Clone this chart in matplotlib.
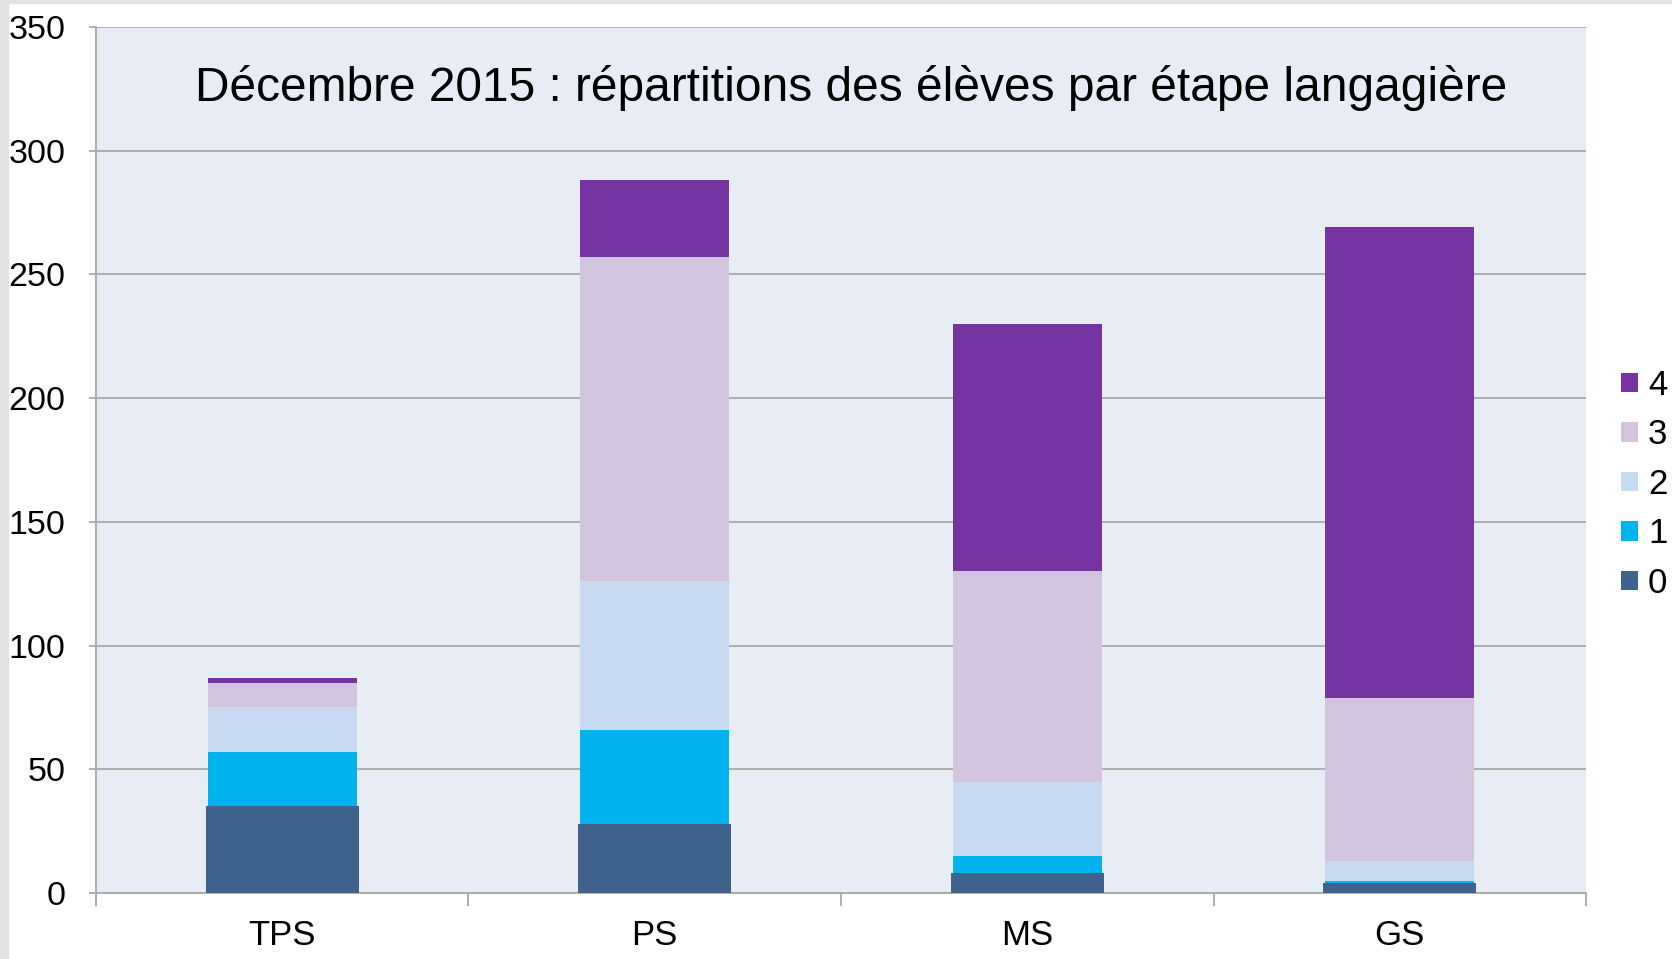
import matplotlib.pyplot as plt
import matplotlib.patches as mpatches
import numpy as np

plt.rcParams['font.family'] = ['Liberation Sans', 'DejaVu Sans']

categories = ['TPS', 'PS', 'MS', 'GS']
etapes = ['0', '1', '2', '3', '4']
vals_0 = [35, 28, 8, 4]
vals_1 = [22, 38, 7, 1]
vals_2 = [18, 60, 30, 8]
vals_3 = [10, 131, 85, 66]
vals_4 = [2, 31, 100, 190]
series = [vals_0, vals_1, vals_2, vals_3, vals_4]
colors = ['#3F638D', '#00B2EE', '#C8DAF1', '#D2C4DD', '#7634A3']
title = 'Décembre 2015 : répartitions des élèves par étape langagière'

fig = plt.figure(figsize=(16.72, 9.59), dpi=100)
ax = fig.add_axes([0.0574, 0.0688, 0.8912, 0.9032])
ax.set_facecolor('#E8ECF4')

# cadre gris clair à gauche / en haut
fig.patches.append(mpatches.Rectangle((0, 0), 0.005, 1, transform=fig.transFigure,
                                      color='#E3E3E3', zorder=0))
fig.patches.append(mpatches.Rectangle((0, 0.997), 1, 0.003, transform=fig.transFigure,
                                      color='#E3E3E3', zorder=0))

x = np.arange(len(categories))
bottom = np.zeros(len(categories))
for k, (vals, c) in enumerate(zip(series, colors)):
    w = 0.41 if k == 0 else 0.4
    ax.bar(x, vals, width=w, bottom=bottom, color=c, label=etapes[k], zorder=3)
    bottom += np.array(vals)

ax.set_xlim(-0.5, 3.5)
ax.set_ylim(0, 350)
ax.set_yticks(range(0, 351, 50))
ax.yaxis.grid(True, color='#A9A9A9', linewidth=1.3, zorder=1)
ax.set_axisbelow(True)

for s in ['top', 'right']:
    ax.spines[s].set_visible(False)
for s in ['left', 'bottom']:
    ax.spines[s].set_color('#A9A9A9')
    ax.spines[s].set_linewidth(1.3)

ax.set_xticks(x)
ax.set_xticklabels(categories)
ax.set_xticks(np.arange(-0.5, 3.6, 1), minor=True)
ax.tick_params(axis='x', which='major', length=0, pad=19, labelsize=25)
ax.tick_params(axis='x', which='minor', length=9, width=1.3, color='#A9A9A9')
ax.tick_params(axis='y', length=5, width=1.3, color='#A9A9A9', pad=17, labelsize=24.5)

ax.text(0.5065, 0.929, title, transform=ax.transAxes, ha='center', va='center', fontsize=34.5)

handles, labels = ax.get_legend_handles_labels()
leg = fig.legend(handles[::-1], labels[::-1], loc='center left', bbox_to_anchor=(0.9695, 0.495),
                 frameon=False, fontsize=25, handlelength=0.48, handleheight=0.48,
                 handletextpad=0.3, labelspacing=0.475, borderpad=0, borderaxespad=0)

fig.savefig('out.png', dpi=100)
